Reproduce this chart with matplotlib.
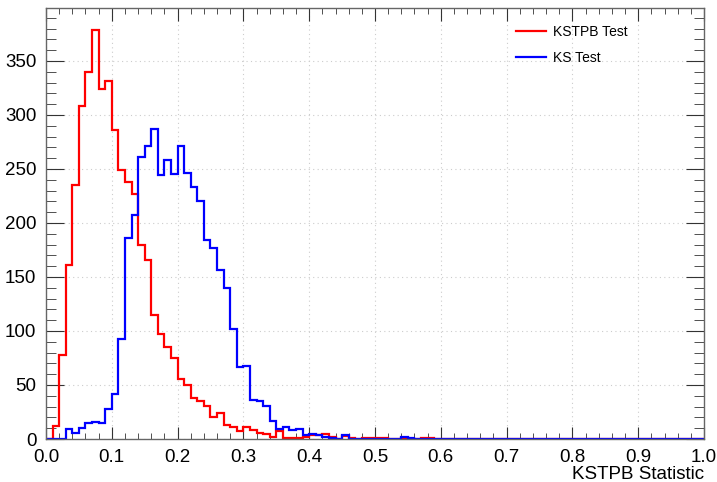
import numpy as np
import matplotlib
matplotlib.use("Agg")
import matplotlib.pyplot as plt
from matplotlib.ticker import MultipleLocator

plt.rcParams['font.family'] = ['Liberation Sans', 'DejaVu Sans']

# 100 bins from 0 to 1
edges = np.linspace(0.0, 1.0, 101)

kstpb = [0, 12, 78, 161, 235, 308, 340, 379, 324, 331,
         286, 249, 238, 227, 180, 166, 115, 97, 85, 75,
         56, 50, 38, 35, 31, 20, 24, 13, 11, 7,
         11, 8, 6, 5, 2, 7, 1, 1, 1, 2,
         4, 4, 5, 2, 0, 3, 1, 0, 1, 1,
         1, 1, 0, 0, 1, 0, 0, 1, 1, 0] + [0] * 40

ks = [0, 0, 0, 9, 6, 10, 15, 16, 15, 28,
      42, 93, 186, 207, 261, 271, 287, 244, 258, 245,
      271, 246, 233, 220, 184, 177, 156, 140, 102, 67,
      68, 36, 35, 31, 17, 9, 11, 8, 9, 4,
      5, 4, 2, 1, 0, 4, 0, 0, 0, 0,
      0, 0, 0, 0, 2, 1, 0, 0, 0, 0] + [0] * 40

fig = plt.figure(figsize=(7.17, 4.82), dpi=100)
ax = fig.add_axes([46 / 717, 43 / 482, 658 / 717, 431 / 482])

ax.stairs(kstpb, edges, color='#ff0000', linewidth=1.6, label='KSTPB Test')
ax.stairs(ks, edges, color='#0000ff', linewidth=1.6, label='KS Test')

ax.set_xlim(0, 1.0)
ax.set_ylim(0, 399)

ax.xaxis.set_major_locator(MultipleLocator(0.1))
ax.xaxis.set_minor_locator(MultipleLocator(0.02))
ax.yaxis.set_major_locator(MultipleLocator(50))
ax.yaxis.set_minor_locator(MultipleLocator(10))
ax.xaxis.set_major_formatter(matplotlib.ticker.FormatStrFormatter('%.1f'))

ax.tick_params(axis='both', which='both', direction='in', top=True, right=True,
               colors='#333333', labelcolor='black', labelsize=13.5)
ax.tick_params(axis='x', which='major', length=9, pad=7)
ax.tick_params(axis='x', which='minor', length=4.5)
ax.tick_params(axis='y', which='major', length=13, pad=7)
ax.tick_params(axis='y', which='minor', length=7)

for s in ax.spines.values():
    s.set_color('#666666')
    s.set_linewidth(1.0)

ax.grid(True, which='major', linestyle=(0, (1, 3)), color='#cccccc', linewidth=0.8)
ax.set_axisbelow(True)

fig.text(704 / 717, 3 / 482, 'KSTPB Statistic', ha='right', va='baseline', fontsize=13.5)

leg = ax.legend(loc='upper left', bbox_to_anchor=(457 / 658, 0.99), frameon=False,
                fontsize=10, handlelength=2.2, handletextpad=0.5, labelspacing=0.9)

fig.savefig('out.png', dpi=100)
